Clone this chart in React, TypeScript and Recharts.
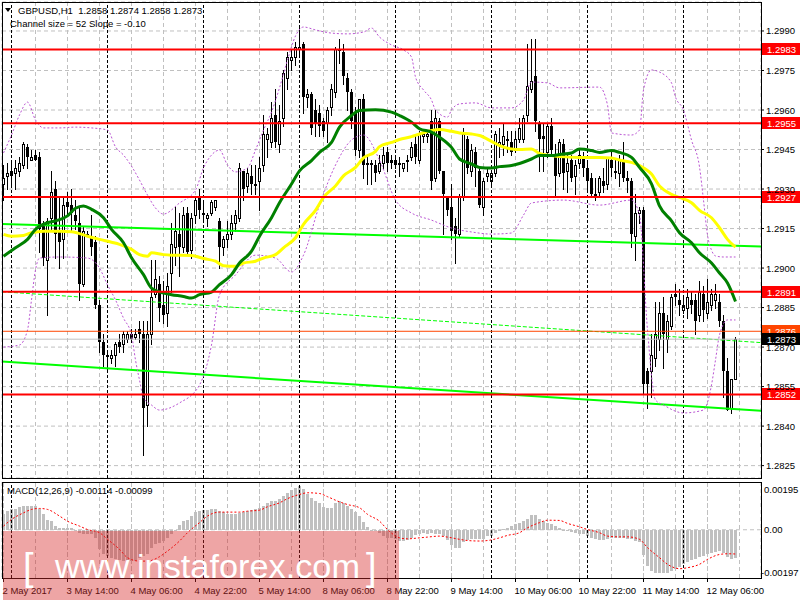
import React from "react";
import {
  ComposedChart,
  Bar,
  Line,
  XAxis,
  YAxis,
  CartesianGrid,
  ReferenceLine,
} from "recharts";

// H1 bars, 2 May 22:00 .. 12 May 13:00 — [open, high, low, close]
const ohlc: number[][] = [
  [1.2932, 1.2939, 1.2926, 1.2934], [1.2935, 1.294, 1.293, 1.2936], [1.2937, 1.294, 1.2931, 1.2935], [1.2936, 1.2941, 1.293, 1.2938],
  [1.2937, 1.2942, 1.2935, 1.294], [1.2939, 1.2948, 1.2938, 1.2947], [1.2946, 1.2947, 1.2938, 1.2942], [1.2941, 1.2945, 1.2941, 1.2942],
  [1.2943, 1.2945, 1.2941, 1.2941], [1.2942, 1.2944, 1.2906, 1.2915], [1.2917, 1.2918, 1.2901, 1.2904], [1.2903, 1.2919, 1.2882, 1.2918],
  [1.2919, 1.2937, 1.2914, 1.2929], [1.293, 1.2933, 1.2904, 1.2913], [1.2914, 1.2927, 1.29, 1.291], [1.2911, 1.2927, 1.2904, 1.2924],
  [1.2925, 1.2929, 1.292, 1.2923], [1.2924, 1.293, 1.2914, 1.2921], [1.292, 1.2926, 1.2915, 1.2918], [1.2917, 1.2923, 1.2888, 1.2894],
  [1.2894, 1.2916, 1.2893, 1.2914], [1.2913, 1.2914, 1.2912, 1.2913], [1.2912, 1.292, 1.2905, 1.2908], [1.291, 1.2912, 1.2885, 1.2886],
  [1.2886, 1.2888, 1.2868, 1.2872], [1.2872, 1.2875, 1.2863, 1.2867], [1.2867, 1.2868, 1.2861, 1.2867], [1.2866, 1.2869, 1.2864, 1.2867],
  [1.2867, 1.2872, 1.2863, 1.2871], [1.2872, 1.2875, 1.2868, 1.287], [1.2871, 1.2876, 1.2868, 1.2875], [1.2873, 1.2876, 1.2872, 1.2875],
  [1.2875, 1.2877, 1.2872, 1.2873], [1.2874, 1.2877, 1.2873, 1.2875], [1.2877, 1.288, 1.2872, 1.2875], [1.2875, 1.288, 1.2829, 1.2847],
  [1.2848, 1.288, 1.284, 1.2875], [1.2875, 1.2903, 1.2871, 1.2889], [1.289, 1.2903, 1.2889, 1.2896], [1.2894, 1.2897, 1.288, 1.2885],
  [1.2886, 1.2895, 1.2879, 1.2882], [1.2883, 1.2898, 1.2878, 1.2893], [1.2898, 1.2917, 1.2891, 1.2909], [1.2908, 1.2923, 1.2901, 1.2914],
  [1.2913, 1.2921, 1.2897, 1.2908], [1.2908, 1.2923, 1.2906, 1.292], [1.2921, 1.2923, 1.2905, 1.2906], [1.2907, 1.2921, 1.2904, 1.2919],
  [1.292, 1.2927, 1.2917, 1.2926], [1.2927, 1.293, 1.2919, 1.2922], [1.2921, 1.2925, 1.2918, 1.292], [1.2919, 1.2921, 1.2916, 1.292],
  [1.2921, 1.2926, 1.292, 1.2925], [1.2923, 1.2926, 1.2922, 1.2926], [1.2918, 1.2919, 1.29, 1.2908], [1.2908, 1.2912, 1.2905, 1.2911],
  [1.2911, 1.2918, 1.2908, 1.2913], [1.2913, 1.292, 1.2911, 1.2917], [1.2917, 1.2922, 1.2914, 1.292], [1.2919, 1.294, 1.2918, 1.2938],
  [1.2937, 1.2937, 1.2926, 1.293], [1.2931, 1.2938, 1.2929, 1.2936], [1.2935, 1.2939, 1.2928, 1.2932], [1.2932, 1.2939, 1.2928, 1.2931],
  [1.2933, 1.2942, 1.2922, 1.2938], [1.2939, 1.2958, 1.2937, 1.2951], [1.2949, 1.2953, 1.2942, 1.2951], [1.2948, 1.2963, 1.2946, 1.2957],
  [1.2958, 1.2968, 1.2946, 1.2948], [1.2947, 1.2962, 1.2944, 1.2956], [1.2957, 1.2975, 1.2954, 1.2974], [1.2972, 1.2982, 1.2968, 1.298],
  [1.2979, 1.2983, 1.2975, 1.298], [1.298, 1.2986, 1.2977, 1.2984], [1.2983, 1.2991, 1.298, 1.2984], [1.2985, 1.2986, 1.2959, 1.2965],
  [1.2965, 1.2968, 1.2961, 1.2966], [1.2966, 1.2967, 1.2951, 1.2953], [1.296, 1.2964, 1.295, 1.2955], [1.2959, 1.2962, 1.295, 1.2954],
  [1.2956, 1.2957, 1.295, 1.2952], [1.2955, 1.2961, 1.2948, 1.296], [1.2961, 1.297, 1.2958, 1.2968], [1.2967, 1.2984, 1.2965, 1.2983],
  [1.2983, 1.2987, 1.2978, 1.2983], [1.2982, 1.2985, 1.297, 1.2973], [1.2972, 1.2974, 1.296, 1.2967], [1.2967, 1.2968, 1.2953, 1.2956],
  [1.2959, 1.2961, 1.2943, 1.2945], [1.2945, 1.2964, 1.2942, 1.2964], [1.2964, 1.2966, 1.2934, 1.2939], [1.294, 1.2943, 1.2932, 1.2939],
  [1.294, 1.2941, 1.2932, 1.294], [1.2939, 1.2941, 1.2933, 1.2936], [1.2937, 1.2943, 1.2936, 1.294], [1.294, 1.2946, 1.2938, 1.2943],
  [1.2944, 1.2946, 1.2937, 1.294], [1.2941, 1.2943, 1.2938, 1.294], [1.2941, 1.2942, 1.2938, 1.2939], [1.294, 1.2942, 1.2935, 1.2939],
  [1.2938, 1.294, 1.2937, 1.294], [1.2941, 1.2943, 1.2937, 1.2941], [1.2942, 1.2948, 1.2941, 1.2946], [1.2947, 1.295, 1.294, 1.2942],
  [1.2941, 1.2952, 1.294, 1.2951], [1.295, 1.2952, 1.2948, 1.2951], [1.295, 1.2952, 1.2948, 1.2951], [1.2956, 1.296, 1.293, 1.2933],
  [1.2934, 1.296, 1.2933, 1.2957], [1.2956, 1.2957, 1.2936, 1.2937], [1.2937, 1.2937, 1.2913, 1.2928], [1.2927, 1.2927, 1.292, 1.2922],
  [1.2923, 1.2932, 1.2911, 1.2914], [1.2916, 1.2919, 1.2902, 1.2913], [1.2913, 1.2928, 1.2912, 1.2927], [1.2927, 1.2953, 1.2926, 1.2951],
  [1.2949, 1.295, 1.2936, 1.2938], [1.2937, 1.2947, 1.2935, 1.2945], [1.2944, 1.2946, 1.2931, 1.2938], [1.2937, 1.2938, 1.2923, 1.2924],
  [1.2923, 1.2934, 1.292, 1.2933], [1.2935, 1.2938, 1.2933, 1.2936], [1.2933, 1.2937, 1.2931, 1.2936], [1.2936, 1.2952, 1.2935, 1.2951],
  [1.2947, 1.2953, 1.2942, 1.2948], [1.2947, 1.2955, 1.2943, 1.295], [1.2949, 1.2952, 1.2944, 1.2949], [1.2948, 1.2952, 1.2943, 1.2944],
  [1.2945, 1.2952, 1.2944, 1.2949], [1.2949, 1.2957, 1.2948, 1.2953], [1.2949, 1.2958, 1.2948, 1.2957], [1.2958, 1.2985, 1.2956, 1.2969],
  [1.2968, 1.2987, 1.2967, 1.2971], [1.2973, 1.2987, 1.2952, 1.2956], [1.2955, 1.2956, 1.2937, 1.2949], [1.295, 1.2955, 1.2937, 1.2949],
  [1.2944, 1.2955, 1.2942, 1.2954], [1.2954, 1.2957, 1.2943, 1.2945], [1.2943, 1.2947, 1.2927, 1.2935], [1.2936, 1.2949, 1.2935, 1.2948],
  [1.2947, 1.2949, 1.293, 1.2936], [1.2937, 1.2943, 1.2929, 1.294], [1.2941, 1.2943, 1.2933, 1.2934], [1.2935, 1.2941, 1.2928, 1.2939],
  [1.294, 1.2945, 1.2938, 1.2943], [1.2942, 1.2944, 1.2935, 1.2938], [1.2938, 1.294, 1.2929, 1.2933], [1.2934, 1.2936, 1.2927, 1.2928],
  [1.2928, 1.2934, 1.2926, 1.2928], [1.2929, 1.2935, 1.2927, 1.2934], [1.2933, 1.2938, 1.2929, 1.2931], [1.2932, 1.2942, 1.293, 1.2942],
  [1.2941, 1.2945, 1.2935, 1.2938], [1.2937, 1.2941, 1.2934, 1.2937], [1.2936, 1.2943, 1.2931, 1.2941], [1.2941, 1.2948, 1.2933, 1.2934],
  [1.2934, 1.2937, 1.2929, 1.2933], [1.2933, 1.2934, 1.2908, 1.2913], [1.2912, 1.2928, 1.2903, 1.2921], [1.2921, 1.2923, 1.2917, 1.2922],
  [1.2922, 1.2923, 1.2852, 1.2856], [1.2861, 1.2862, 1.2847, 1.2856], [1.2861, 1.2875, 1.2851, 1.2867], [1.2866, 1.2887, 1.2863, 1.2875],
  [1.2873, 1.2887, 1.2869, 1.2883], [1.2883, 1.2889, 1.2862, 1.2875], [1.2873, 1.2882, 1.2868, 1.288], [1.2878, 1.289, 1.2877, 1.2889],
  [1.289, 1.2894, 1.2886, 1.2889], [1.2888, 1.2892, 1.2882, 1.2886], [1.2884, 1.2889, 1.2883, 1.2886], [1.2885, 1.2892, 1.2881, 1.2889],
  [1.2888, 1.2891, 1.2883, 1.2886], [1.2888, 1.289, 1.2875, 1.288], [1.2882, 1.2895, 1.288, 1.2891], [1.289, 1.2893, 1.288, 1.2884],
  [1.2883, 1.2896, 1.2881, 1.2887], [1.2886, 1.2892, 1.2884, 1.289], [1.2888, 1.2894, 1.2885, 1.289], [1.2887, 1.289, 1.2878, 1.288],
  [1.288, 1.2882, 1.2851, 1.2861], [1.2861, 1.2866, 1.2846, 1.2846], [1.2847, 1.2858, 1.2845, 1.2858], [1.2858, 1.2874, 1.2858, 1.2873],
];

// moving averages, read at [bar, price]
const greenMa = [
  [0, 1.29045], [3, 1.29077], [6, 1.29109], [8, 1.29147], [11, 1.29172], [13, 1.29179], [16, 1.29198], [18, 1.29227],
  [20, 1.29236], [22, 1.29223], [25, 1.29191], [27, 1.29147], [30, 1.29096], [32, 1.29039], [35, 1.28975], [37, 1.28924],
  [40, 1.28905], [42, 1.28899], [45, 1.28892], [47, 1.28886], [49, 1.28899], [52, 1.28909], [54, 1.28937], [57, 1.28975],
  [59, 1.29019], [62, 1.29064], [64, 1.29121], [67, 1.29191], [69, 1.29248], [72, 1.29319], [74, 1.29369], [77, 1.29408],
  [79, 1.29439], [82, 1.29477], [84, 1.29535], [87, 1.29579], [89, 1.29598], [93, 1.29601], [97, 1.29592], [99, 1.29579],
  [102, 1.29554], [104, 1.29529], [107, 1.29516], [109, 1.29497], [112, 1.29458], [114, 1.29414], [117, 1.29395], [119, 1.29382],
  [122, 1.2938], [124, 1.29385], [127, 1.29389], [129, 1.29397], [132, 1.29414], [134, 1.29427], [137, 1.29427], [139, 1.29431],
  [142, 1.29437], [144, 1.29452], [147, 1.29446], [149, 1.29439], [152, 1.29446], [154, 1.29439], [157, 1.2942], [159, 1.29382],
  [162, 1.2932], [164, 1.29236], [167, 1.29179], [169, 1.29134], [172, 1.29096], [174, 1.29058], [177, 1.29019], [179, 1.28981],
  [181, 1.28943], [183, 1.28873],
];
const yellowMa = [
  [0, 1.29128], [2, 1.29121], [5, 1.29124], [7, 1.29134], [10, 1.2914], [14, 1.2914], [17, 1.29138], [21, 1.29121],
  [24, 1.29109], [27, 1.29098], [29, 1.2909], [32, 1.29071], [34, 1.29051], [36, 1.29045], [37, 1.29058], [40, 1.29051],
  [42, 1.29049], [47, 1.29048], [50, 1.29036], [53, 1.29026], [55, 1.29009], [58, 1.29007], [60, 1.29019], [63, 1.29026],
  [65, 1.29038], [68, 1.29051], [70, 1.29077], [73, 1.29115], [75, 1.29166], [78, 1.29219], [80, 1.29268], [83, 1.29312],
  [85, 1.2935], [88, 1.29382], [90, 1.29418], [93, 1.29443], [94, 1.29461], [97, 1.29477], [99, 1.29488], [102, 1.29499],
  [104, 1.29509], [107, 1.29522], [109, 1.29526], [112, 1.29519], [114, 1.29513], [117, 1.29509], [119, 1.29503], [122, 1.29481],
  [124, 1.29465], [127, 1.29452], [129, 1.2945], [132, 1.29452], [134, 1.29435], [137, 1.29427], [139, 1.29423], [144, 1.2942],
  [149, 1.2942], [152, 1.29418], [154, 1.2941], [157, 1.29401], [159, 1.29389], [162, 1.29357], [164, 1.29312], [167, 1.2928],
  [169, 1.29268], [172, 1.29248], [174, 1.29219], [177, 1.29191], [179, 1.29153], [181, 1.29109], [183, 1.29079],
];

// envelope bands (dotted purple), [bar, price]
const bandUpper = [
  [0, 1.29437], [2, 1.29505], [4, 1.29581], [6, 1.2963], [8, 1.29562], [10, 1.29532], [14, 1.29532], [18, 1.29535],
  [22, 1.29532], [26, 1.29524], [28, 1.2946], [30, 1.29429], [32, 1.29387], [34, 1.29334], [36, 1.29277], [38, 1.29228],
  [40, 1.29205], [44, 1.29247], [48, 1.29296], [50, 1.2938], [52, 1.29429], [54, 1.29448], [56, 1.29391], [58, 1.29365],
  [61, 1.2938], [63, 1.29448], [65, 1.29524], [67, 1.29592], [69, 1.29684], [71, 1.2979], [73, 1.29881], [75, 1.29915],
  [78, 1.29904], [82, 1.29892], [86, 1.29889], [90, 1.29896], [92, 1.29911], [94, 1.29877], [97, 1.29847], [100, 1.29828],
  [102, 1.29801], [103, 1.29725], [105, 1.29676], [107, 1.29638], [108, 1.296], [111, 1.29573], [112, 1.296], [114, 1.29623],
  [118, 1.29627], [122, 1.29608], [127, 1.29608], [130, 1.29638], [132, 1.29706], [136, 1.29703], [139, 1.29684], [149, 1.29687],
  [151, 1.29619], [152, 1.29513], [157, 1.29505], [159, 1.29524], [160, 1.29676], [162, 1.29752], [164, 1.29744], [167, 1.29703],
  [168, 1.29649], [170, 1.296], [172, 1.29486], [174, 1.29384], [175, 1.29258], [176, 1.29125], [177, 1.29068], [178, 1.29046],
  [180, 1.29042], [183, 1.29042],
];
const bandLower = [
  [0, 1.287], [4, 1.28708], [6, 1.28765], [7, 1.28879], [8, 1.28993], [9, 1.29038], [14, 1.29042], [21, 1.29038],
  [24, 1.29], [26, 1.28936], [28, 1.28879], [30, 1.2881], [32, 1.28746], [33, 1.28651], [34, 1.28575], [35, 1.28507],
  [37, 1.2848], [39, 1.28461], [44, 1.28488], [49, 1.28556], [52, 1.28708], [54, 1.28898], [58, 1.28974], [63, 1.29049],
  [68, 1.29038], [72, 1.28985], [75, 1.29049], [79, 1.29239], [83, 1.29391], [87, 1.29486], [90, 1.29505], [94, 1.2941],
  [98, 1.29258], [102, 1.29209], [107, 1.29182], [112, 1.29152], [117, 1.29137], [122, 1.29129], [127, 1.29133], [130, 1.29201],
  [132, 1.29247], [140, 1.29258], [149, 1.29239], [157, 1.29258], [159, 1.29201], [161, 1.28765], [163, 1.28499], [165, 1.2848],
  [170, 1.2845], [175, 1.28461], [177, 1.28556], [178, 1.28651], [179, 1.28746], [181, 1.28803], [183, 1.28803],
];

// horizontal levels and channel
const redLevels = [1.2983, 1.2955, 1.2927, 1.2891, 1.2852];
const orangeLevel = 1.2876;
const bidLevel = 1.2873;
const channelUpper = [1.29167, 1.29082];
const channelMiddle = [1.2891, 1.28717];
const channelLower = [1.28645, 1.28458];

// MACD(12,26,9)
const macdHist = [
  0.00063, 0.00076, 0.00083, 0.00083, 0.00093, 0.00099, 0.00099, 0.00099, 0.00099, 0.00086,
  0.00063, 0.00038, 0.00035, 0.00015, 0.00008, 0.00008, 0.00008, 0.00007, 0.00001, -0.00015,
  -0.00019, -0.00019, -0.00019, -0.00033, -0.0008, -0.00101, -0.00107, -0.00114, -0.00118, -0.00124,
  -0.00128, -0.00128, -0.00128, -0.00128, -0.00114, -0.00107, -0.00101, -0.00073, -0.0006, -0.00053,
  -0.00046, -0.00033, -0.00019, -0.00003, 0.00018, 0.00035, 0.00039, 0.00056, 0.00072, 0.00076,
  0.0008, 0.0008, 0.00086, 0.00086, 0.00076, 0.00072, 0.00063, 0.00063, 0.00063, 0.00069,
  0.00072, 0.00076, 0.0008, 0.00086, 0.0009, 0.00099, 0.0011, 0.00117, 0.00117, 0.00124,
  0.00137, 0.00151, 0.00162, 0.00171, 0.00178, 0.00167, 0.00148, 0.00131, 0.00117, 0.0011,
  0.00094, 0.0009, 0.0009, 0.0011, 0.00117, 0.0011, 0.00097, 0.00086, 0.00072, 0.00056,
  0.00031, 0.00012, 0.00001, -0.00005, -0.00012, -0.00026, -0.00033, -0.00033, -0.00039, -0.00044,
  -0.00044, -0.00042, -0.00033, -0.00023, -0.00019, -0.00015, -0.00019, -0.00015, -0.00019, -0.00019,
  -0.00026, -0.00042, -0.00064, -0.00076, -0.00076, -0.0005, -0.00042, -0.00039, -0.00039, -0.00037,
  -0.00037, -0.00026, -0.00026, -0.00015, -0.00005, 0.00004, 0.00008, 0.00015, 0.00022, 0.00029,
  0.00035, 0.00045, 0.00059, 0.00059, 0.00042, 0.00035, 0.00029, 0.00022, 0.00015, 0.00008,
  0.00001, -0.00005, -0.0001, -0.00012, -0.00016, -0.00019, -0.00026, -0.00033, -0.00039, -0.00042,
  -0.00042, -0.00037, -0.00033, -0.00033, -0.00033, -0.00033, -0.00037, -0.00039, -0.00046, -0.0005,
  -0.00105, -0.00146, -0.00169, -0.00176, -0.00178, -0.00178, -0.00176, -0.00169, -0.00162, -0.00151,
  -0.00141, -0.00132, -0.00124, -0.00118, -0.0011, -0.00107, -0.00101, -0.00094, -0.00091, -0.00087,
  -0.00094, -0.0011, -0.00121, -0.00114,
];
const macdSignal = [
  [0, 0.00015], [2, 0.00042], [5, 0.00069], [7, 0.00083], [9, 0.00087], [11, 0.00083], [14, 0.00056], [16, 0.00035],
  [19, 0.00015], [21, 0.00001], [24, -0.00012], [26, -0.00039], [29, -0.0008], [31, -0.00114], [34, -0.00128], [36, -0.00128],
  [39, -0.0011], [41, -0.00087], [44, -0.00046], [46, -0.00012], [49, 0.00029], [51, 0.00056], [54, 0.00072], [56, 0.00072],
  [59, 0.00072], [61, 0.00076], [64, 0.0008], [66, 0.00094], [69, 0.0011], [71, 0.00127], [74, 0.00144], [76, 0.00151],
  [79, 0.00148], [81, 0.00135], [84, 0.00114], [86, 0.00103], [89, 0.0009], [91, 0.00063], [94, 0.00035], [96, 0.00001],
  [99, -0.00033], [101, -0.00037], [104, -0.00033], [106, -0.0003], [109, -0.00026], [111, -0.0003], [114, -0.00039], [116, -0.00044],
  [119, -0.00046], [121, -0.00044], [124, -0.00033], [126, -0.00023], [129, -0.00012], [131, 0.00008], [134, 0.00029], [136, 0.00039],
  [139, 0.00038], [141, 0.00026], [144, 0.00012], [146, 0.00001], [149, -0.00012], [151, -0.00026], [154, -0.00029], [156, -0.00029],
  [159, -0.00039], [161, -0.00073], [164, -0.00114], [166, -0.00141], [169, -0.00159], [171, -0.00155], [174, -0.00141], [176, -0.00121],
  [179, -0.00101], [181, -0.00098], [183, -0.00099],
];

// axes
const priceTicks = [1.2825, 1.284, 1.2855, 1.287, 1.2885, 1.29, 1.2915, 1.293, 1.2945, 1.296, 1.2975, 1.299];
const macdTicks = [0.00195, 0, -0.00197];
const timeTicks = [0, 16, 32, 48, 64, 80, 96, 112, 128, 144, 160, 176];
const timeLabels = [
  "2 May 2017", "3 May 14:00", "4 May 06:00", "4 May 22:00", "5 May 14:00", "8 May 06:00",
  "8 May 22:00", "9 May 14:00", "10 May 06:00", "10 May 22:00", "11 May 14:00", "12 May 06:00",
];
const gridTicks = [0, 8, 16, 24, 32, 40, 48, 56, 64, 72, 80, 88, 96, 104, 112, 120, 128, 136, 144, 152, 160, 168, 176, 184];
const daySeparators = [2, 26, 50, 74, 98, 122, 146, 170];

const X_DOMAIN = [-0.375, 189.375];
const FONT = "'Liberation Sans', Arial, sans-serif";

const rows: any[] = ohlc.map(([o, h, l, c], i) => ({ i, o, h, l, c, range: [l, h], hist: macdHist[i] }));
const put = (pairs: number[][], key: string) => pairs.forEach(([i, v]) => (rows[i][key] = v));
put(greenMa, "ma1");
put(yellowMa, "ma2");
put(bandUpper, "up");
put(bandLower, "lo");
put(macdSignal, "sig");

function Candle(props: any) {
  const { x, y, width, height, payload } = props;
  if (x == null || !payload) return null;
  const { o, h, l, c } = payload;
  const top = Math.min(y, y + height);
  const span = Math.abs(height);
  const k = h > l ? span / (h - l) : 0;
  const cx = Math.floor(x + width / 2);
  const yo = top + (h - o) * k;
  const yc = top + (h - c) * k;
  const bTop = Math.round(Math.min(yo, yc));
  const bBot = Math.round(Math.max(yo, yc));
  return (
    <g>
      <line x1={cx + 0.5} x2={cx + 0.5} y1={Math.round(top)} y2={Math.round(top + span) + 1} stroke="#000" />
      {c >= o ? (
        <rect x={cx - 0.5} y={bTop + 0.5} width={2} height={Math.max(bBot - bTop, 1)} fill="#fff" stroke="#000" />
      ) : (
        <rect x={cx - 1} y={bTop} width={3} height={Math.max(bBot - bTop, 1)} fill="#000" />
      )}
    </g>
  );
}

function HistBar(props: any) {
  const { x, y, width, height } = props;
  if (x == null) return null;
  const cx = Math.floor(x + width / 2);
  const t = Math.round(Math.min(y, y + height));
  const b = Math.round(Math.max(y, y + height));
  return <rect x={cx - 1} y={t} width={3} height={Math.max(b - t, 1)} fill="#c0c0c0" />;
}

function PriceBox(props: any) {
  const { viewBox, text, fill } = props;
  if (!viewBox) return null;
  const x = viewBox.x + viewBox.width + 1;
  const y = Math.round(viewBox.y);
  return (
    <g>
      <rect x={x} y={y - 6} width={38} height={12} fill={fill} />
      <text x={x + 5} y={y + 3.5} fill="#fff" fontSize={9.5} fontFamily={FONT}>
        {text}
      </text>
    </g>
  );
}

function PriceTick(props: any) {
  const { x, y, payload } = props;
  return (
    <text x={x} y={y + 3.5} fontSize={9.5} fontFamily={FONT} fill="#000">
      {payload.value.toFixed(4)}
    </text>
  );
}

function MacdTick(props: any) {
  const { x, y, payload } = props;
  const v = payload.value;
  const label = v !== 0 ? v.toFixed(5) : "0.00";
  const dy = v > 0 ? 7 : v < 0 ? -6 : 0;
  const dx = v < 0 ? -3 : 0;
  return (
    <text x={x + dx} y={y + dy + 3.5} fontSize={9.5} fontFamily={FONT} fill="#000">
      {label}
    </text>
  );
}

// the MACD panel's plot is 96px tall, the labels sit just under it
function TimeTick(props: any) {
  const { x, payload } = props;
  const k = timeTicks.indexOf(payload.value);
  return (
    <text x={x - 1} y={112} fontSize={9.5} fontFamily={FONT} fill="#000">
      {timeLabels[k]}
    </text>
  );
}

export default function App() {
  return (
    <div style={{ position: "absolute", left: 0, top: 0, width: 800, height: 600, background: "#fff", overflow: "hidden" }}>
      <div style={{ position: "absolute", left: 0, top: 0 }}>
        <ComposedChart width={800} height={480} data={rows} margin={{ top: 2, right: 0, bottom: 2, left: 2 }}>
          <CartesianGrid stroke="#c0c0c0" strokeDasharray="4 3" />
          <XAxis dataKey="i" type="number" domain={X_DOMAIN} ticks={gridTicks} allowDataOverflow hide height={0} />
          <YAxis
            orientation="right"
            type="number"
            domain={[1.28203, 1.3001]}
            ticks={priceTicks}
            interval={0}
            allowDataOverflow
            width={39}
            axisLine={false}
            tickSize={3}
            tickMargin={2}
            tickLine={{ stroke: "#000" }}
            tick={<PriceTick />}
          />
          {daySeparators.map((d) => (
            <ReferenceLine key={"d" + d} x={d} stroke="#000" strokeDasharray="3 2" />
          ))}
          <ReferenceLine segment={[{ x: X_DOMAIN[0], y: channelUpper[0] }, { x: X_DOMAIN[1], y: channelUpper[1] }]} stroke="#00ff00" strokeWidth={2} />
          <ReferenceLine segment={[{ x: X_DOMAIN[0], y: channelMiddle[0] }, { x: X_DOMAIN[1], y: channelMiddle[1] }]} stroke="#00ff00" strokeDasharray="4 2" />
          <ReferenceLine segment={[{ x: X_DOMAIN[0], y: channelLower[0] }, { x: X_DOMAIN[1], y: channelLower[1] }]} stroke="#00ff00" strokeWidth={2} />
          <Line dataKey="up" stroke="#ba55d3" strokeDasharray="2 2" dot={false} connectNulls type="monotone" isAnimationActive={false} />
          <Line dataKey="lo" stroke="#ba55d3" strokeDasharray="2 2" dot={false} connectNulls type="monotone" isAnimationActive={false} />
          <Bar dataKey="range" shape={<Candle />} barSize={4} isAnimationActive={false} />
          <Line dataKey="ma2" stroke="#ffff00" strokeWidth={3} dot={false} connectNulls type="monotone" isAnimationActive={false} />
          <Line dataKey="ma1" stroke="#008000" strokeWidth={3} dot={false} connectNulls type="monotone" isAnimationActive={false} />
          <ReferenceLine y={bidLevel} stroke="#c0c0c0" />
          <ReferenceLine y={orangeLevel} stroke="#ff4500" label={<PriceBox text={orangeLevel.toFixed(4)} fill="#ff4500" />} />
          <ReferenceLine y={bidLevel} stroke="none" label={<PriceBox text={bidLevel.toFixed(4)} fill="#000" />} />
          {redLevels.map((lv) => (
            <ReferenceLine key={"r" + lv} y={lv} stroke="#ff0000" strokeWidth={2} label={<PriceBox text={lv.toFixed(4)} fill="#ff0000" />} />
          ))}
        </ComposedChart>
      </div>
      <div style={{ position: "absolute", left: 0, top: 482 }}>
        <ComposedChart width={800} height={118} data={rows} margin={{ top: 0, right: 0, bottom: 0, left: 2 }}>
          <CartesianGrid stroke="#c0c0c0" strokeDasharray="4 3" horizontal={false} />
          <XAxis
            dataKey="i"
            type="number"
            domain={X_DOMAIN}
            ticks={timeTicks}
            interval={0}
            allowDataOverflow
            height={22}
            axisLine={false}
            tickSize={4}
            tickMargin={2}
            tickLine={{ stroke: "#000" }}
            tick={<TimeTick />}
          />
          <XAxis xAxisId="grid" dataKey="i" type="number" domain={X_DOMAIN} ticks={gridTicks} allowDataOverflow hide height={0} />
          <YAxis
            orientation="right"
            type="number"
            domain={[-0.00197, 0.00195]}
            ticks={macdTicks}
            interval={0}
            allowDataOverflow
            width={39}
            axisLine={false}
            tickLine={false}
            tickSize={0}
            tickMargin={3}
            tick={<MacdTick />}
          />
          {gridTicks.map((g) => (
            <ReferenceLine key={"g" + g} x={g} stroke="#c0c0c0" strokeDasharray="4 3" />
          ))}
          {daySeparators.map((d) => (
            <ReferenceLine key={"m" + d} x={d} stroke="#000" strokeDasharray="3 2" />
          ))}
          <ReferenceLine y={0} stroke="#c0c0c0" strokeDasharray="4 3" />
          <Bar dataKey="hist" shape={<HistBar />} barSize={3} isAnimationActive={false} />
          <Line dataKey="sig" stroke="#ff0000" strokeDasharray="2 2" dot={false} connectNulls type="monotone" isAnimationActive={false} />
        </ComposedChart>
      </div>
      <svg width={800} height={600} style={{ position: "absolute", left: 0, top: 0, pointerEvents: "none" }}>
        <rect x={2.5} y={2.5} width={759} height={476} fill="none" stroke="#000" />
        <rect x={2.5} y={482.5} width={759} height={96} fill="none" stroke="#000" />
        <polygon points="5,8 11,8 8,12" fill="#000" />
        <text x={18} y={14} fontSize={9.5} fontFamily={FONT} fill="#000" style={{ whiteSpace: "pre" }}>
          {"GBPUSD,H1  1.2858 1.2874 1.2858 1.2873"}
        </text>
        <text x={10} y={27} fontSize={9.5} fontFamily={FONT} fill="#000">
          Channel size = 52 Slope = -0.10
        </text>
        <text x={7} y={494} fontSize={9.5} fontFamily={FONT} fill="#000">
          MACD(12,26,9) -0.00114 -0.00099
        </text>
        <rect x={3} y={531} width={396} height={69} fill="rgba(214,40,40,0.42)" />
        <text x={23} y={580} fontSize={38} fontFamily={FONT} fill="#fff" fontWeight={300}>[</text>
        <text x={55} y={578} fontSize={34} fontFamily={FONT} fill="#fff" textLength={305} lengthAdjust="spacingAndGlyphs">
          www.instaforex.com
        </text>
        <text x={366} y={580} fontSize={38} fontFamily={FONT} fill="#fff" fontWeight={300}>]</text>
      </svg>
    </div>
  );
}
